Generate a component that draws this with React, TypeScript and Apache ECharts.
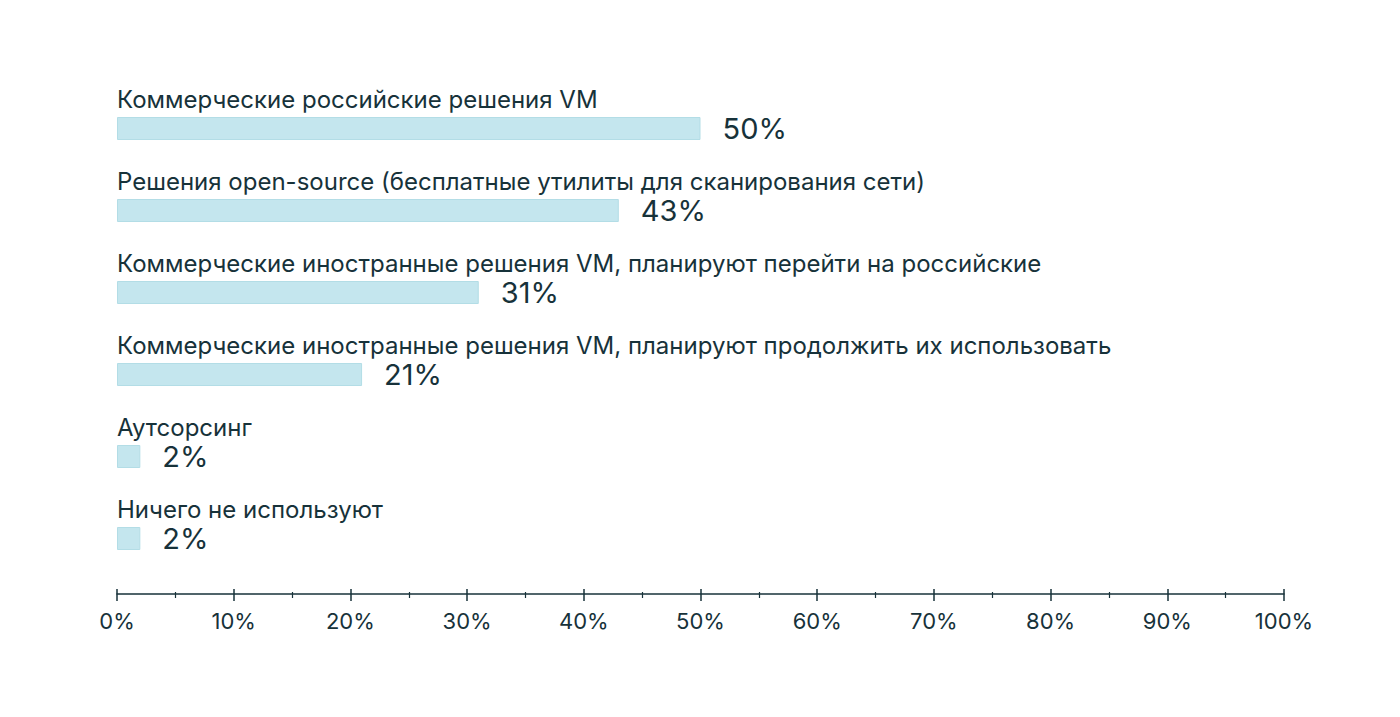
import React, { useEffect, useRef } from 'react'
import * as echarts from 'echarts'

const categories = [
  'Коммерческие российские решения VM',
  'Решения open-source (бесплатные утилиты для сканирования сети)',
  'Коммерческие иностранные решения VM, планируют перейти на российские',
  'Коммерческие иностранные решения VM, планируют продолжить их использовать',
  'Аутсорсинг',
  'Ничего не используют',
]
const values = [50, 43, 31, 21, 2, 2]
const tickValues = [0, 10, 20, 30, 40, 50, 60, 70, 80, 90, 100]

const textColor = '#17323a'
const barColor = '#c4e6ee'
const font = 'Inter'

const App = () => {
  const chartRef = useRef<HTMLDivElement | null>(null)

  useEffect(() => {
    if (!chartRef.current) return
    const myChart = echarts.init(chartRef.current, null, { renderer: 'svg' })

    const axisBase = {
      type: 'value',
      min: tickValues[0],
      max: tickValues[tickValues.length - 1],
      interval: 10,
      position: 'bottom',
      offset: 14.5,
      splitLine: { show: false },
    }

    myChart.setOption({
      animation: false,
      backgroundColor: '#ffffff',
      textStyle: { fontFamily: font },
      grid: { left: 117, right: 116, top: 87.5, bottom: 137.5, containLabel: false },
      xAxis: [
        {
          ...axisBase,
          axisLine: { show: true, lineStyle: { color: textColor, width: 1.5 } },
          axisTick: { show: true, length: 7, lineStyle: { color: textColor, width: 1.5 } },
          minorTick: { show: true, splitNumber: 2, length: 4, lineStyle: { color: textColor, width: 1.2 } },
          axisLabel: {
            color: textColor,
            fontSize: 22,
            fontFamily: font,
            margin: 16,
            formatter: (v: number) => `${v}%`,
          },
        },
        {
          ...axisBase,
          axisLine: { show: false },
          axisTick: { show: true, inside: true, length: 5, lineStyle: { color: textColor, width: 1.5 } },
          minorTick: { show: true, splitNumber: 2, length: 2, lineStyle: { color: textColor, width: 1.2 } },
          axisLabel: { show: false },
        },
      ],
      yAxis: {
        type: 'category',
        data: categories,
        inverse: true,
        axisLine: { show: false },
        axisTick: { show: false },
        axisLabel: { show: false },
      },
      series: [
        {
          type: 'bar',
          xAxisIndex: 0,
          data: values,
          barWidth: 23,
          itemStyle: { color: barColor, borderColor: '#b3dde6', borderWidth: 1 },
          label: {
            show: true,
            position: 'right',
            distance: 22,
            color: textColor,
            fontSize: 29,
            lineHeight: 26,
            fontFamily: font,
            formatter: '{c}%',
          },
        },
        {
          type: 'bar',
          xAxisIndex: 0,
          data: values,
          barWidth: 23,
          barGap: '-100%',
          itemStyle: { color: 'transparent' },
          silent: true,
          label: {
            show: true,
            position: [0, -6],
            align: 'left',
            verticalAlign: 'bottom',
            color: textColor,
            fontSize: 24,
            lineHeight: 24,
            fontFamily: font,
            formatter: '{b}',
          },
        },
      ],
    })

    return () => {
      myChart.dispose()
    }
  }, [])

  return (
    <div
      ref={chartRef}
      style={{ position: 'fixed', left: 0, top: 0, width: 1400, height: 717 }}
    />
  )
}

export default App
